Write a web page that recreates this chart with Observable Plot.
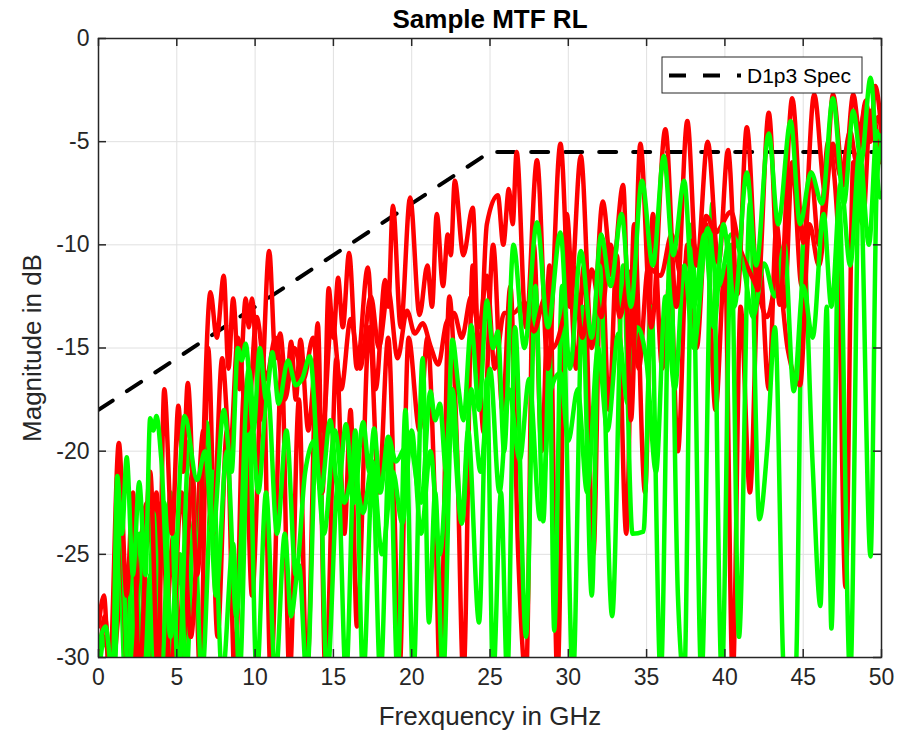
<!DOCTYPE html>
<html><head><meta charset="utf-8">
<script src="https://cdn.jsdelivr.net/npm/d3@7"></script>
<script src="https://cdn.jsdelivr.net/npm/@observablehq/plot@0.6"></script>
<style>body{margin:0;background:#fff}#chart{width:907px;height:730px}</style>
</head><body><div id="chart"></div>
<script>
const title = "Sample MTF RL";
const xLabel = "Frexquency in GHz";
const yLabel = "Magnitude in dB";
const legendLabel = "D1p3 Spec";
const xTicks = [0, 5, 10, 15, 20, 25, 30, 35, 40, 45, 50];
const yTicks = [0, -5, -10, -15, -20, -25, -30];
const specF = [0, 25, 50];
const specDb = [-18, -5.5, -5.5];

const redA = [[0,-28.5],[0.35,-27],[0.7,-31],[1.3,-19.6],[1.8,-27],[2.2,-22],[2.6,-31],[3.3,-21],[3.8,-31],[4.2,-17],[4.7,-24],[5.1,-17.8],[5.4,-21],[5.7,-16.7],[6.3,-26],[7.15,-12.3],[7.55,-14.5],[8.0,-11.5],[8.3,-16],[8.6,-12.6],[9.0,-17],[9.4,-12.6],[9.6,-14],[9.8,-12.6],[10.3,-18.5],[10.9,-10.3],[11.3,-15.5],[11.6,-14.3],[12.0,-17],[12.3,-14.7],[12.6,-17.5],[12.9,-14.6],[13.4,-19],[13.9,-15.5],[14.3,-22],[14.7,-12.1],[15.0,-14.5],[15.3,-11.6],[15.6,-14],[16.0,-10.4],[16.5,-16],[17.2,-11.1],[17.7,-17],[18.3,-11.7],[18.5,-13],[18.8,-8.1],[19.3,-14],[19.9,-7.7],[20.5,-13.4],[21.0,-11],[21.3,-13],[21.6,-8.5],[22.0,-12],[22.3,-9.5],[22.5,-10.5],[22.75,-6.9],[23.3,-10.5],[23.9,-8.2],[24.3,-16],[24.8,-9],[25.5,-7.6],[25.85,-10],[26.2,-7.3],[26.45,-9],[26.7,-5.5],[27.3,-14],[28.0,-5.9],[28.7,-16],[29.5,-5.1],[30.1,-13],[30.8,-5.7],[31.5,-15],[32.2,-7.9],[32.8,-11.5],[33.5,-7.1],[34.0,-18.5],[34.6,-5.1],[35.3,-14],[36.2,-4.4],[36.9,-13],[37.6,-4.0],[38.2,-11],[38.9,-5.0],[39.6,-10.9],[40.2,-5.4],[40.8,-12.4],[41.4,-4.3],[42.1,-12.2],[42.8,-3.6],[43.5,-12.9],[44.3,-2.9],[45.0,-9.9],[45.7,-2.7],[46.4,-7.4],[46.9,-2.7],[47.6,-7.1],[48.2,-2.7],[48.6,-4.6],[49.0,-3.0],[49.3,-5],[49.6,-2.3],[50,-4.5]];

const redB = [[0,-31],[0.9,-31],[1.35,-23.6],[1.9,-31],[2.5,-26],[3.1,-22.5],[3.5,-25],[4.0,-22.5],[4.6,-31],[5.3,-22],[5.9,-29],[6.7,-19],[7.3,-24],[7.9,-15.5],[8.4,-20],[8.9,-14.5],[9.5,-19],[10.1,-13.5],[10.7,-16.5],[11.3,-14.5],[11.9,-17.5],[12.5,-15],[13.1,-16.5],[13.7,-14.5],[14.3,-19],[14.9,-13.5],[15.5,-17],[16.1,-13.6],[16.7,-16],[17.4,-12.5],[17.9,-15],[18.5,-12.2],[19.1,-15.5],[19.7,-13.2],[20.2,-14.3],[20.7,-13.8],[21.2,-14.9],[21.7,-15.8],[22.2,-13.8],[22.7,-13.3],[23.2,-14.5],[23.8,-12.5],[24.3,-14],[24.8,-11.5],[25.3,-16],[25.9,-13.3],[26.5,-13.3],[27.2,-12.8],[27.8,-14.2],[28.5,-12.6],[29.0,-15],[29.7,-13.5],[30.3,-11],[30.9,-14.5],[31.5,-11.2],[32.1,-13.5],[32.7,-10],[33.3,-13.5],[33.9,-11.3],[34.5,-16],[35.1,-11.1],[35.9,-11.5],[36.6,-9.5],[37.2,-11.5],[37.9,-9.8],[38.4,-11],[38.8,-8.6],[39.4,-9.4],[40.4,-8.4],[40.9,-10],[41.4,-11],[42.0,-12],[42.7,-13.5],[43.4,-11.5],[44.0,-15],[44.8,-16.8],[45.4,-9],[46.0,-11],[46.9,-5.1],[47.4,-6.7],[48.0,-4.5],[48.4,-6],[49.0,-3.2],[49.4,-4.5],[49.8,-3.8],[50,-4.5]];

const redC = [[0,-31],[0.4,-28],[0.8,-31],[1.6,-26],[2.1,-31],[2.8,-25],[3.3,-31],[3.7,-22],[4.1,-31],[4.8,-24],[5.3,-31],[6.0,-21],[6.5,-31],[7.0,-15],[7.6,-29],[8.2,-19],[8.7,-31],[9.3,-17],[9.8,-27],[10.5,-15.5],[11.0,-31],[11.7,-16],[12.2,-31],[12.8,-17.5],[13.3,-31],[14.0,-13.8],[14.5,-31],[15.2,-15.5],[15.7,-24],[16.1,-18],[16.5,-28.5],[17.3,-14],[17.9,-22],[18.5,-14.5],[18.9,-22.9],[19.2,-31],[19.8,-14.5],[20.5,-19],[21.0,-14.5],[21.5,-23],[21.8,-31],[22.4,-12.5],[22.9,-20],[23.3,-31],[23.9,-11],[24.3,-16],[24.6,-19.1],[25.2,-10],[25.8,-18],[26.3,-12],[26.8,-25],[27.3,-31],[27.8,-10],[28.3,-20],[28.8,-11],[29.3,-31],[29.9,-8.5],[30.5,-16],[31.0,-11],[31.6,-25],[32.1,-10],[32.6,-18],[33.1,-10.5],[33.7,-24],[34.2,-9],[34.9,-22],[35.4,-8.5],[36.0,-16],[36.5,-11.5],[37.0,-20],[37.6,-10],[38.2,-15],[38.8,-9],[39.4,-18],[40.0,-11],[40.5,-31],[41.0,-13],[41.6,-22],[42.2,-10.5],[42.8,-17],[43.3,-9],[43.8,-13],[44.3,-6],[44.9,-12],[45.5,-6.5],[46.0,-10],[46.6,-5],[47.2,-9],[47.7,-26.6],[48.2,-6],[48.8,-9],[49.3,-3.5],[50,-6]];

const greenA = [[0,-29.5],[0.45,-28.5],[0.9,-31],[1.2,-21.2],[1.5,-24],[1.8,-20.3],[2.2,-26],[2.6,-21.5],[3.0,-26],[3.3,-18.4],[3.5,-19],[3.7,-18.3],[4.0,-20.3],[4.6,-29],[5.5,-18.3],[6.3,-21.4],[6.8,-20],[7.3,-24],[8.0,-18],[8.5,-21],[8.9,-15],[9.15,-15.6],[9.4,-14.8],[9.9,-19],[10.3,-15],[10.7,-17.5],[11.1,-15.2],[11.5,-17.7],[12.1,-15.6],[12.6,-16.8],[13.0,-16.5],[13.5,-15.4],[14.2,-22],[14.8,-18.5],[15.3,-22],[15.8,-18.7],[16.3,-22.5],[16.9,-18.6],[17.3,-21],[17.6,-18.9],[18.0,-22],[18.5,-19.3],[19.0,-20.5],[19.5,-19.9],[19.9,-19.7],[20.6,-22.5],[21.2,-17.1],[21.5,-18.5],[21.8,-17.7],[22.2,-21],[22.6,-14.6],[23.0,-17],[23.3,-18.5],[23.8,-13.9],[24.3,-18],[24.8,-12.7],[25.2,-15],[25.5,-14.2],[25.9,-20],[26.5,-10],[27.2,-15],[28.0,-8.9],[28.7,-14],[29.5,-9.4],[30.1,-16],[30.8,-10.3],[31.5,-14.5],[32.1,-9.5],[32.7,-12],[33.4,-8.5],[34.0,-13],[34.7,-6.9],[35.4,-11],[36.1,-5.7],[36.7,-10.5],[37.4,-6.9],[38.0,-13],[38.7,-9.5],[39.3,-14],[39.9,-9],[40.6,-13],[41.4,-6.5],[42.0,-11],[42.8,-4.6],[43.4,-9],[44.2,-4.0],[44.8,-9],[45.5,-6.5],[46.2,-8],[46.9,-2.9],[47.6,-8],[48.2,-3.5],[48.7,-6],[49.3,-1.9],[49.9,-7.7],[50,-7.5]];

const greenB = [[0,-31],[1.0,-31],[1.4,-22.5],[1.9,-31],[2.6,-24],[3.1,-31],[3.5,-23],[4.0,-31],[4.6,-22],[5.1,-31],[5.8,-19.5],[6.3,-25],[6.9,-18.6],[7.5,-27],[8.2,-20],[8.8,-28],[9.6,-16],[10.2,-22],[10.8,-17],[11.4,-24],[12.0,-19],[12.6,-26],[13.2,-21],[13.8,-19.5],[14.4,-24],[15.1,-19],[15.7,-22.5],[16.3,-21],[16.9,-23],[17.5,-20.5],[18.1,-25],[18.8,-21],[19.4,-23.5],[20.0,-19],[20.6,-24],[21.2,-20],[21.8,-25],[22.5,-18],[23.2,-23.5],[23.8,-17],[24.4,-21],[25.0,-16],[25.6,-22],[26.2,-17],[26.9,-20.4],[27.5,-16.5],[28.2,-23.3],[28.9,-17],[29.5,-16.2],[30.0,-19.5],[30.6,-17],[31.2,-22],[31.9,-15],[32.5,-19],[33.2,-14.3],[33.8,-17.7],[34.4,-14],[35.0,-15.7],[35.6,-21],[36.2,-12.5],[36.8,-17],[37.4,-11],[38.0,-15],[38.9,-9.2],[39.6,-12],[40.4,-9.5],[41.2,-11.1],[41.8,-13.5],[42.5,-10.9],[43.2,-12.5],[43.8,-10],[44.4,-17.1],[45.0,-12],[45.6,-14.5],[46.3,-8.5],[46.8,-13],[47.4,-7],[48.0,-11],[48.6,-5.5],[49.2,-10],[49.7,-4.5],[50,-5]];

const greenC = [[0,-31],[0.4,-29],[0.8,-31],[1.3,-24],[1.7,-31],[2.3,-24],[2.8,-31],[3.3,-26],[3.6,-31],[4.2,-22.5],[4.7,-31],[5.2,-25],[5.6,-31],[6.1,-23.4],[6.6,-31],[7.3,-21],[7.9,-31],[8.6,-24.5],[9.0,-31],[9.6,-18],[10.1,-31],[10.7,-22],[11.3,-31],[11.9,-24],[12.3,-28],[12.8,-25.5],[13.3,-31],[14.0,-17.5],[14.6,-31],[15.3,-21.5],[15.8,-31],[16.4,-19],[16.9,-31],[17.5,-21],[18.0,-31],[18.6,-19.5],[19.1,-31],[19.6,-18],[20.1,-31],[20.7,-15.5],[21.1,-28.3],[21.5,-22],[22.0,-31],[22.6,-17],[23.2,-23.5],[23.6,-19],[24.3,-28.3],[24.8,-16.5],[25.2,-31],[25.7,-22],[26.1,-31],[26.6,-14],[27.3,-29],[27.9,-12],[28.4,-23.4],[28.8,-15],[29.1,-28.7],[29.6,-12],[30.3,-31],[30.9,-13],[31.5,-27],[32.0,-11],[32.8,-28],[33.5,-11],[34.1,-24],[34.8,-23.9],[35.3,-13],[35.9,-31],[36.5,-10],[37.0,-27],[37.4,-31],[37.9,-9],[38.5,-31],[39.2,-8],[39.8,-31],[40.4,-10],[40.9,-29],[41.6,-8],[42.2,-23.3],[42.7,-19.9],[43.2,-14],[43.8,-31],[44.5,-31],[45.0,-10],[45.6,-20.6],[46.1,-27.5],[46.5,-13],[46.8,-28.6],[47.3,-8],[48.0,-31],[48.6,-6],[49.3,-25.1],[49.7,-7],[50,-5]];

const RED = "#ff0000", GREEN = "#00ff00", AXIS = "#262626";
const W = 907, H = 730, mL = 98, mR = 26, mT = 38, mB = 73;
const frameW = W - mL - mR, frameH = H - mT - mB, TICK = 8;
const FONT = "'Liberation Sans', Arial, Helvetica, sans-serif";

const spec = specF.map((f, i) => ({f, m: specDb[i]}));
const curve = (pts, color) => Plot.line(pts, {x: d => d[0], y: d => d[1], stroke: color, strokeWidth: 4.5, curve: "monotone-x", clip: true, strokeLinejoin: "round"});
const fmt = d => String(d);

const plot = Plot.plot({
  width: W, height: H,
  marginLeft: mL, marginRight: mR, marginTop: mT, marginBottom: mB,
  style: {fontFamily: FONT, fontSize: "23px", color: AXIS, background: "#fff", overflow: "visible"},
  x: {domain: [0, 50]},
  y: {domain: [-30, 0]},
  marks: [
    Plot.ruleX(xTicks, {x: d => d, stroke: "#e0e0e0", strokeWidth: 1}),
    Plot.ruleY(yTicks, {y: d => d, stroke: "#e0e0e0", strokeWidth: 1}),
    Plot.line(spec, {x: "f", y: "m", stroke: "#000", strokeWidth: 4, strokeDasharray: "17,17", clip: true}),
    curve(redC, RED),
    curve(greenC, GREEN),
    curve(redB, RED),
    curve(greenB, GREEN),
    curve(redA, RED),
    curve(greenA, GREEN),
    Plot.frame({stroke: AXIS, strokeWidth: 1.5}),
    Plot.tickX(xTicks, {x: d => d, insetTop: frameH - TICK, stroke: AXIS, strokeWidth: 1.5}),
    Plot.tickX(xTicks, {x: d => d, insetBottom: frameH - TICK, stroke: AXIS, strokeWidth: 1.5}),
    Plot.tickY(yTicks, {y: d => d, insetRight: frameW - TICK, stroke: AXIS, strokeWidth: 1.5}),
    Plot.tickY(yTicks, {y: d => d, insetLeft: frameW - TICK, stroke: AXIS, strokeWidth: 1.5}),
    Plot.axisX({ticks: xTicks, tickSize: 0, tickPadding: 11, tickFormat: fmt, label: null, fontSize: 23}),
    Plot.axisY({ticks: yTicks, tickSize: 0, tickPadding: 9, tickFormat: fmt, label: null, fontSize: 23}),
    Plot.text([title], {text: d => d, frameAnchor: "top", dy: -19, lineAnchor: "middle", textAnchor: "middle", fontWeight: "bold", fontSize: 26, fill: "#000"}),
    Plot.text([xLabel], {text: d => d, frameAnchor: "bottom", dy: 59, lineAnchor: "middle", textAnchor: "middle", fontSize: 26, fill: AXIS}),
    Plot.text([yLabel], {text: d => d, frameAnchor: "left", dx: -66, rotate: -90, lineAnchor: "middle", textAnchor: "middle", fontSize: 26, fill: AXIS})
  ]
});

// legend box (top-right inside the axes)
const svg = d3.select(plot);
const lg = svg.append("g").attr("font-family", FONT).attr("text-anchor", "start");
const bx = W - mR - 19 - 200, by = mT + 19;
lg.append("rect").attr("x", bx).attr("y", by).attr("width", 200).attr("height", 36)
  .attr("fill", "#fff").attr("stroke", AXIS).attr("stroke-width", 1);
lg.append("line").attr("x1", bx + 7).attr("x2", bx + 79).attr("y1", by + 18.5).attr("y2", by + 18.5)
  .attr("stroke", "#000").attr("stroke-width", 4).attr("stroke-dasharray", "17,17");
lg.append("text").attr("x", bx + 85).attr("y", by + 18.5).attr("dy", "0.35em")
  .attr("text-anchor", "start").attr("font-size", 21).attr("fill", "#000").text(legendLabel);

document.getElementById("chart").appendChild(plot);
</script>
</body></html>
